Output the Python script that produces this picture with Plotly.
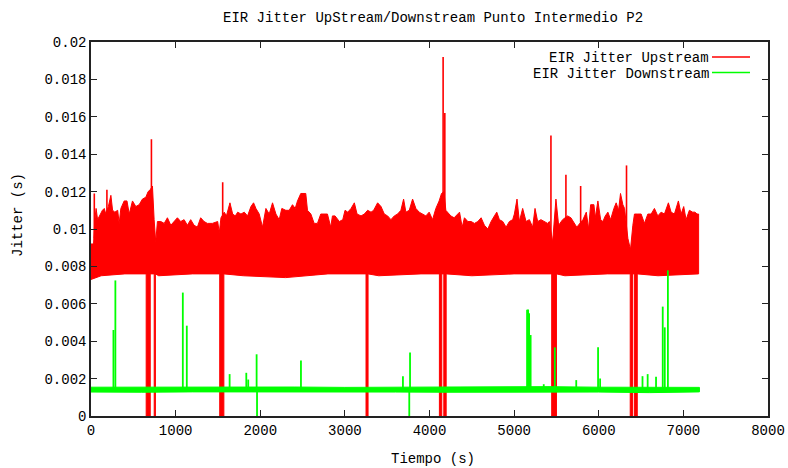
import plotly.graph_objects as go

# ---------------- data ----------------
title_text = "EIR Jitter UpStream/Downstream Punto Intermedio P2"
x_title = "Tiempo (s)"
y_title = "Jitter (s)"
series_names = ["EIR Jitter Upstream", "EIR Jitter Downstream"]

x_ticks = [0, 1000, 2000, 3000, 4000, 5000, 6000, 7000, 8000]
x_tick_labels = ["0", "1000", "2000", "3000", "4000", "5000", "6000", "7000", "8000"]
y_ticks = [0, 0.002, 0.004, 0.006, 0.008, 0.01, 0.012, 0.014, 0.016, 0.018, 0.02]
y_tick_labels = ["0", "0.002", "0.004", "0.006", "0.008", "0.01", "0.012", "0.014", "0.016", "0.018", "0.02"]

# Upstream: upper edge of the dense band (time, jitter)
up_top_t = [0, 30, 46, 60, 78, 100, 135, 157, 175, 205, 235, 255, 282, 315, 333, 353, 392, 425, 452, 490,
            530, 569, 608, 648, 675, 700, 726, 746, 765, 785, 825, 865, 903, 943, 982, 1021, 1060, 1100, 1139,
            1178, 1218, 1257, 1296, 1336, 1375, 1434, 1497, 1516, 1536, 1575, 1600, 1642, 1674, 1705,
            1733, 1772, 1811, 1850, 1890, 1921, 1949, 1988, 2027, 2067, 2106, 2145, 2185, 2224, 2255,
            2302, 2342, 2381, 2413, 2440, 2479, 2538, 2558, 2598, 2637, 2676, 2715, 2755, 2794, 2833,
            2853, 2884, 2935, 2975, 3002, 3034, 3073, 3112, 3144, 3191, 3230, 3269, 3309, 3340, 3387,
            3427, 3466, 3505, 3544, 3584, 3623, 3662, 3694, 3721, 3761, 3800, 3839, 3878, 3918, 3957,
            3996, 4036, 4075, 4114, 4142, 4171, 4193, 4252, 4291, 4316, 4355, 4386, 4413, 4453, 4492,
            4531, 4571, 4610, 4649, 4689, 4728, 4767, 4795, 4826, 4866, 4905, 4944, 4983, 5003, 5034,
            5062, 5101, 5141, 5180, 5219, 5247, 5278, 5317, 5357, 5396, 5416, 5455, 5494, 5526, 5573,
            5632, 5671, 5710, 5740, 5813, 5853, 5880, 5904, 5943, 5959, 5990, 6022, 6049, 6077, 6108,
            6140, 6179, 6206, 6234, 6257, 6285, 6305, 6344, 6375, 6403, 6422, 6462, 6501, 6540, 6580,
            6619, 6658, 6698, 6737, 6776, 6823, 6855, 6894, 6941, 6973, 7004, 7032, 7071, 7110, 7137,
            7161, 7180]
up_top_v = [0.0092, 0.0092, 0.0105, 0.0111, 0.0105, 0.0107, 0.0110, 0.0111, 0.0108, 0.0112, 0.0118, 0.0110,
            0.0109, 0.0110, 0.0103, 0.0111, 0.0115, 0.0115, 0.0108, 0.0115, 0.0112, 0.0113, 0.0116, 0.0117,
            0.0120, 0.0121, 0.0123, 0.0105, 0.0093, 0.0104, 0.0104, 0.0103, 0.0106, 0.0102, 0.0104, 0.0106, 0.0104,
            0.0105, 0.0102, 0.0105, 0.0102, 0.0101, 0.0106, 0.0104, 0.0103, 0.0103, 0.0104, 0.0098, 0.0106,
            0.0109, 0.0107, 0.0114, 0.0108, 0.0107, 0.0109, 0.0108, 0.0109, 0.0107, 0.0112, 0.0114, 0.0111,
            0.0108, 0.0101, 0.0111, 0.0108, 0.0114, 0.0108, 0.0105, 0.0111, 0.0110, 0.0110, 0.0113, 0.0111,
            0.0115, 0.0119, 0.0119, 0.0110, 0.0108, 0.0103, 0.0103, 0.0108, 0.0108, 0.0108, 0.0101, 0.0107,
            0.0107, 0.0104, 0.0105, 0.0110, 0.0109, 0.0111, 0.0114, 0.0108, 0.0107, 0.0108, 0.0110, 0.0109,
            0.0110, 0.0114, 0.0112, 0.0108, 0.0107, 0.0105, 0.0107, 0.0108, 0.0110, 0.0116, 0.0109, 0.0110,
            0.0116, 0.0111, 0.0109, 0.0108, 0.0107, 0.0109, 0.0105, 0.0111, 0.0115, 0.0119, 0.0120, 0.0110,
            0.0107, 0.0106, 0.0107, 0.0109, 0.0101, 0.0106, 0.0104, 0.0104, 0.0103, 0.0104, 0.0106, 0.0102,
            0.0100, 0.0104, 0.0107, 0.0109, 0.0105, 0.0104, 0.0101, 0.0104, 0.0105, 0.0108, 0.0116, 0.0104,
            0.0111, 0.0104, 0.0105, 0.0101, 0.0111, 0.0104, 0.0105, 0.0104, 0.0103, 0.0104, 0.0093, 0.0116,
            0.0102, 0.0105, 0.0107, 0.0106, 0.0103, 0.0101, 0.0105, 0.0109, 0.0100, 0.0113, 0.0113, 0.0106,
            0.0115, 0.0105, 0.0104, 0.0107, 0.0109, 0.0105, 0.0111, 0.0114, 0.0110, 0.0119, 0.0113, 0.0111,
            0.0095, 0.0089, 0.0102, 0.0108, 0.0108, 0.0108, 0.0103, 0.0108, 0.0108, 0.0111, 0.0107, 0.0109,
            0.0108, 0.0114, 0.0109, 0.0108, 0.0115, 0.0108, 0.0112, 0.0105, 0.0110, 0.0109, 0.0109, 0.0108,
            0.0108]

# Upstream: lower edge of the band
up_low_t = [0, 120, 400, 800, 1200, 1800, 2300, 2800, 3400, 3900, 4500, 5000, 5600, 6100, 6700, 7180]
up_low_v = [0.0073, 0.0075, 0.0076, 0.0075, 0.0076, 0.0075, 0.0074, 0.0076, 0.0075, 0.0076, 0.0075,
            0.0076, 0.0075, 0.0076, 0.0075, 0.0076]

# Upstream: isolated high peaks
up_peak_t = [39, 188, 714, 1556, 4161, 4181, 5435, 5612, 5786, 6328]
up_peak_v = [0.0119, 0.0121, 0.0148, 0.0125, 0.0192, 0.0162, 0.0150, 0.0129, 0.0123, 0.0134]

# Upstream: drops to zero (start, end of each dropout)
up_drop_start = [652, 747, 1521, 3250, 4117, 4169, 5444, 6372, 6420]
up_drop_end = [700, 761, 1570, 3274, 4145, 4197, 5500, 6398, 6455]

# Downstream: band edges
dn_band_t = [0, 600, 1200, 1800, 2400, 3000, 3600, 4200, 4800, 5400, 6000, 6600, 7190]
dn_band_hi = [0.00154, 0.00155, 0.00153, 0.00154, 0.00155, 0.00153, 0.00154, 0.00154, 0.00153,
              0.00157, 0.00154, 0.00155, 0.00153]
dn_band_lo = [0.00128, 0.00127, 0.00129, 0.00128, 0.00127, 0.00129, 0.00128, 0.00127, 0.00129,
              0.00127, 0.00128, 0.00125, 0.00129]
dn_base = 0.0014

# Downstream: spikes
dn_spike_t = [265, 288, 1085, 1132, 1638, 1835, 1858, 1957, 2481, 3686, 3770, 5153, 5165, 5177, 5195,
              5350, 5481, 5734, 5992, 6016, 6517, 6578, 6677, 6756, 6780, 6817]
dn_spike_v = [0.0046, 0.00725, 0.0066, 0.00483, 0.00224, 0.00231, 0.00195, 0.0033, 0.00297, 0.00213,
              0.0034, 0.00568, 0.0057, 0.0055, 0.00433, 0.0017, 0.00367, 0.00192, 0.00367, 0.0020,
              0.00213, 0.00224, 0.0021, 0.00585, 0.00474, 0.00779]

# Downstream: drops to zero
dn_drop_t = [1962, 3761]

RED = "#ff0000"
GREEN = "#00ff00"
FONT = "Liberation Mono"

# ---------------- build figure ----------------
fig = go.Figure()

# Upstream band polygon: top edge forward, bottom edge (with dropouts) backward
low_pts = list(zip(up_low_t, up_low_v))
for s, e in zip(up_drop_start, up_drop_end):
    low_pts += [(s, 0.0076), (s, 0.0), (e, 0.0), (e, 0.0076)]
low_pts.sort(key=lambda p: p[0])
poly_x = list(up_top_t) + [p[0] for p in reversed(low_pts)]
poly_y = list(up_top_v) + [p[1] for p in reversed(low_pts)]
fig.add_trace(go.Scatter(x=poly_x, y=poly_y, fill="toself", fillcolor=RED, mode="lines",
                         line=dict(color=RED, width=1), showlegend=False, hoverinfo="skip"))

# Upstream peaks
px_, py_ = [], []
for t, v in zip(up_peak_t, up_peak_v):
    px_ += [t, t, None]
    py_ += [0.0095, v, None]
fig.add_trace(go.Scatter(x=px_, y=py_, mode="lines", line=dict(color=RED, width=1.6),
                         showlegend=False, hoverinfo="skip"))

# Downstream band
gx = list(dn_band_t) + list(reversed(dn_band_t))
gy = list(dn_band_hi) + list(reversed(dn_band_lo))
fig.add_trace(go.Scatter(x=gx, y=gy, fill="toself", fillcolor=GREEN, mode="lines",
                         line=dict(color=GREEN, width=1), showlegend=False, hoverinfo="skip"))

# Downstream spikes and drops
sx, sy = [], []
for t, v in zip(dn_spike_t, dn_spike_v):
    sx += [t, t, None]
    sy += [dn_base, v, None]
for t in dn_drop_t:
    sx += [t, t, None]
    sy += [0.0, dn_base, None]
fig.add_trace(go.Scatter(x=sx, y=sy, mode="lines", line=dict(color=GREEN, width=1.8),
                         showlegend=False, hoverinfo="skip"))

# ---------------- layout ----------------
L, R, T, B = 91, 768, 42, 416
W, H = 788, 468


def xp(px):
    return (px - L) / (R - L)


def yp(py):
    return (B - py) / (B - T)


axis_common = dict(ticks="inside", ticklen=6, tickcolor="#222", tickwidth=1,
                   showline=True, linecolor="#222", linewidth=1.5, mirror="ticks",
                   showgrid=False, zeroline=False, automargin=False,
                   tickfont=dict(family=FONT, size=14, color="black"))

fig.update_layout(
    width=W, height=H,
    margin=dict(l=L, r=W - R, t=T, b=H - B, pad=0, autoexpand=False),
    plot_bgcolor="white", paper_bgcolor="white",
    showlegend=False,
    xaxis=dict(range=[0, 8000], tickvals=x_ticks, ticktext=x_tick_labels, **axis_common),
    yaxis=dict(range=[0, 0.02], tickvals=y_ticks, ticktext=y_tick_labels, **axis_common),
)

annos = [
    dict(text=title_text, x=xp(433), y=yp(18)),
    dict(text=x_title, x=xp(433), y=yp(459)),
    dict(text=y_title, x=xp(18), y=yp(215), textangle=-90),
    dict(text=series_names[0], x=xp(711), y=yp(58), xanchor="right"),
    dict(text=series_names[1], x=xp(711), y=yp(74), xanchor="right"),
]
for a in annos:
    a.setdefault("xanchor", "center")
    fig.add_annotation(xref="paper", yref="paper", yanchor="middle", showarrow=False,
                       font=dict(family=FONT, size=14, color="black"), **a)

for py, col in [(57, RED), (72.5, GREEN)]:
    fig.add_shape(type="line", xref="paper", yref="paper", x0=xp(712), x1=xp(750),
                  y0=yp(py), y1=yp(py), line=dict(color=col, width=1.6))

fig.write_html("out.html")
